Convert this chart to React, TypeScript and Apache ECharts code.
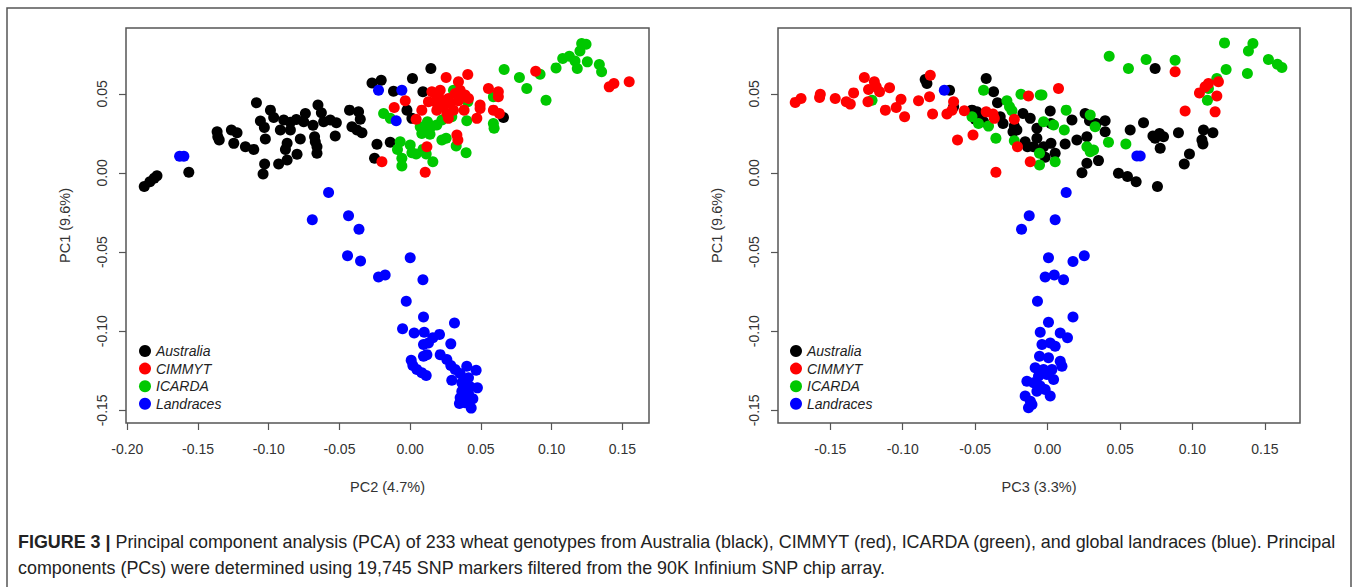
import React, { useEffect, useRef } from "react";
import * as echarts from "echarts";

type P = [number, number];

// ---- PC2 (x) vs PC1 (y) ----
const AUSTRALIA_PC2: P[] = [
  [-0.188, -0.0086], [-0.184, -0.0055], [-0.181, -0.0033], [-0.179, -0.0017],
  [-0.1565, 0.0004], [-0.1087, 0.0443],
  [-0.1365, 0.026], [-0.136, 0.0229], [-0.135, 0.0208],
  [-0.1264, 0.0271], [-0.1224, 0.0254], [-0.1247, 0.0187],
  [-0.1165, 0.0166], [-0.1106, 0.0149], [-0.1024, 0.0214],
  [-0.0988, 0.0397], [-0.1059, 0.0328], [-0.1031, 0.0288], [-0.0965, 0.0351],
  [-0.0894, 0.0334], [-0.0847, 0.0321], [-0.0805, 0.0338], [-0.0741, 0.0376],
  [-0.0753, 0.0323], [-0.0687, 0.0301], [-0.0652, 0.0429], [-0.0628, 0.038],
  [-0.0612, 0.0323], [-0.0565, 0.0334], [-0.0522, 0.0317],
  [-0.0918, 0.0271], [-0.0847, 0.0271], [-0.087, 0.0187], [-0.0882, 0.0149],
  [-0.0777, 0.0214], [-0.08, 0.0118], [-0.087, 0.0082], [-0.093, 0.0057],
  [-0.1029, 0.0057], [-0.104, -0.0006],
  [-0.0676, 0.0229], [-0.0671, 0.0197], [-0.0659, 0.0166], [-0.0659, 0.0124],
  [-0.053, 0.0233],
  [-0.027, 0.0569], [-0.0205, 0.0586], [0.0146, 0.066], [0.0016, 0.0597],
  [-0.0118, 0.0517], [0.009, 0.0513],
  [-0.0429, 0.0397], [-0.0365, 0.0386], [-0.0353, 0.0339], [-0.0412, 0.0292],
  [-0.0376, 0.0271], [-0.0341, 0.0254],
  [-0.0023, 0.0397], [0.0012, 0.0345], [-0.0235, 0.0181], [-0.0141, 0.0194],
  [-0.0252, 0.0093], [0.0659, 0.0351],
];

const CIMMYT_PC2: P[] = [
  [0.0254, 0.0603], [0.0407, 0.0622], [0.0341, 0.0576], [0.0153, 0.0513],
  [0.0212, 0.0523], [0.0188, 0.0481], [0.0129, 0.045], [0.0177, 0.045],
  [0.0224, 0.046], [0.027, 0.0471], [0.0318, 0.0502], [0.0353, 0.0523],
  [0.0388, 0.0492], [0.0341, 0.0456], [0.0282, 0.044], [0.0235, 0.0418],
  [0.0188, 0.0397], [0.0381, 0.0397], [0.0412, 0.0471], [0.0306, 0.0397],
  [0.0259, 0.0376], [0.0082, 0.0397], [0.0042, 0.0339], [-0.0035, 0.0456],
  [-0.0113, 0.0414], [0.027, 0.0345], [0.0471, 0.0345], [0.0494, 0.0429],
  [0.0494, 0.0408], [0.0553, 0.0534], [0.0623, 0.0513], [0.0623, 0.0481],
  [0.0588, 0.0397], [0.063, 0.0376], [0.033, 0.024], [0.0337, 0.0208],
  [0.0118, 0.0166], [0.0106, 0.0004], [-0.02, 0.0071], [0.0887, 0.0643],
  [0.1407, 0.0544], [0.144, 0.0566], [0.1548, 0.0576],
];

const ICARDA_PC2: P[] = [
  [0.0664, 0.0654], [0.0772, 0.0603], [0.0824, 0.0534], [0.0918, 0.0624],
  [0.096, 0.046], [0.1031, 0.0664], [0.1078, 0.0723], [0.1125, 0.0738],
  [0.1165, 0.0708], [0.1181, 0.066], [0.1212, 0.0818], [0.1243, 0.0813],
  [0.12, 0.0771], [0.1252, 0.0702], [0.1337, 0.0685], [0.1353, 0.0639],
  [-0.0188, 0.0376], [-0.0141, 0.0345], [0.0071, 0.0292], [0.0113, 0.0275],
  [0.0153, 0.0296], [0.0188, 0.0303], [0.0122, 0.0323], [0.0224, 0.0334],
  [0.0294, 0.0355], [0.04, 0.033], [0.0407, 0.045], [0.0306, 0.0523],
  [0.0588, 0.0313], [0.0593, 0.0282], [0.0588, 0.0481], [0.0224, 0.0208],
  [0.0254, 0.0219], [0.0325, 0.017], [0.0395, 0.0128], [0.0082, 0.025],
  [0.014, 0.0245],
  [-0.0071, 0.0197], [-0.009, 0.0149], [-0.0059, 0.0093], [-0.0059, 0.0044],
  [0, 0.0177], [0.0012, 0.0128], [0.0042, 0.012], [0.009, 0.0149],
  [0.0113, 0.012], [0.016, 0.0071],
];

const LANDRACES_PC2: P[] = [
  [-0.163, 0.0105], [-0.16, 0.0105], [-0.0224, 0.0523], [-0.0059, 0.0523],
  [-0.0099, 0.033],
  [-0.0577, -0.0124], [-0.0692, -0.0296], [-0.0436, -0.0271], [-0.0362, -0.0355],
  [-0.0443, -0.0523], [-0.0351, -0.0557], [0, -0.0536], [-0.0224, -0.0658],
  [-0.0177, -0.0645], [0.009, -0.0675], [-0.0028, -0.0811], [0.0094, -0.091],
  [0.0313, -0.0948], [-0.0054, -0.0985], [0.0028, -0.1011], [0.0099, -0.1007],
  [0.0207, -0.102], [0.016, -0.1042], [0.0094, -0.1084], [0.0129, -0.1074],
  [0.0287, -0.108], [0.0094, -0.1158], [0.0118, -0.1148], [0.0007, -0.1183],
  [0.0019, -0.1217], [0.0047, -0.1242], [0.0082, -0.1263], [0.0113, -0.128],
  [0.0212, -0.1148], [0.0259, -0.1179], [0.0287, -0.1217], [0.0318, -0.1242],
  [0.04, -0.1221], [0.0466, -0.1247], [0.0294, -0.131], [0.0353, -0.1267],
  [0.0365, -0.1326], [0.0412, -0.1294], [0.0424, -0.1351], [0.0475, -0.1358],
  [0.0365, -0.1379], [0.0412, -0.1393], [0.0443, -0.1427], [0.0353, -0.1421],
  [0.0348, -0.1456], [0.0431, -0.1486], [0.0388, -0.1452],
];

// ---- PC3 (x) vs PC1 (y) ----
const AUSTRALIA_PC3: P[] = [
  [-0.0845, 0.0591], [-0.0833, 0.0566], [-0.0677, 0.0523], [-0.0649, 0.0418],
  [-0.0424, 0.0597], [-0.0373, 0.0513], [-0.0346, 0.0443], [-0.0522, 0.0397],
  [-0.0488, 0.0386], [-0.0465, 0.0355], [-0.0442, 0.0323], [-0.05, 0.0339],
  [-0.0327, 0.0355], [-0.0308, 0.0313], [-0.023, 0.0296], [-0.0212, 0.0271],
  [-0.0239, 0.026], [-0.017, 0.0376], [-0.012, 0.0345], [-0.0155, 0.0197],
  [-0.0139, 0.0166], [-0.0074, 0.0282], [-0.0074, 0.0219],
  [0.0742, 0.066], [0.0018, 0.0391], [0.0023, 0.0313], [0.0168, 0.0334],
  [0.0259, 0.0376], [0.0289, 0.033], [0.0335, 0.0313], [0.0397, 0.033],
  [0.0397, 0.026], [0.0271, 0.0229], [0.0202, 0.0208], [0.0121, 0.0183],
  [0.0023, 0.0187], [0.0052, 0.0124], [-0.0017, 0.0099], [-0.0097, 0.0166],
  [-0.0028, 0.0166], [0.0351, 0.0078], [0.0271, 0.0061], [0.0237, 0.0002],
  [0.0489, -0.0002], [0.0551, -0.0023], [0.0611, -0.0055], [0.0758, -0.0086],
  [0.0662, 0.0317], [0.057, 0.0271], [0.0727, 0.0233], [0.0772, 0.025],
  [0.08, 0.0229], [0.0777, 0.0156], [0.0742, 0.0219], [0.0903, 0.0254],
  [0.0979, 0.012], [0.0943, 0.0057], [0.1076, 0.0271], [0.1141, 0.0254],
  [0.1065, 0.0208], [0.1072, 0.0183],
];

const CIMMYT_PC3: P[] = [
  [-0.1742, 0.0446], [-0.1702, 0.0471], [-0.1574, 0.0477], [-0.1569, 0.0498],
  [-0.1466, 0.0471], [-0.139, 0.045], [-0.1362, 0.0435], [-0.1339, 0.0506],
  [-0.1265, 0.0603], [-0.1236, 0.0528], [-0.1196, 0.0576], [-0.1183, 0.0544],
  [-0.116, 0.0513], [-0.124, 0.045], [-0.1091, 0.0538], [-0.1012, 0.0465],
  [-0.1045, 0.0414], [-0.112, 0.0397], [-0.0987, 0.0355], [-0.0891, 0.0456],
  [-0.081, 0.0618], [-0.0815, 0.0481], [-0.0794, 0.0372], [-0.0695, 0.0372],
  [-0.066, 0.0397], [-0.0649, 0.045], [-0.0575, 0.0393], [-0.0622, 0.0208],
  [-0.0515, 0.024], [-0.0424, 0.0386], [-0.0377, 0.0372], [-0.0368, 0.0345],
  [-0.0357, 0.0004], [-0.023, 0.0339], [-0.0208, 0.0166], [-0.012, 0.0071],
  [-0.0132, 0.0486],
  [0.0075, 0.0534], [0.088, 0.0639], [0.0949, 0.0391], [0.1048, 0.0506],
  [0.1087, 0.0544], [0.111, 0.0566], [0.1179, 0.0576], [0.1168, 0.0486],
  [0.1156, 0.0386],
];

const ICARDA_PC3: P[] = [
  [-0.1212, 0.046], [-0.0442, 0.0523], [-0.0184, 0.0498], [-0.0281, 0.0456],
  [-0.0263, 0.0418], [-0.0246, 0.0393], [-0.0522, 0.0355], [-0.0477, 0.0313],
  [-0.0408, 0.0296], [-0.0357, 0.0219], [-0.023, 0.0204], [-0.0056, 0.0124],
  [-0.0056, 0.005], [-0.0051, 0.0492],
  [0.0425, 0.0738], [0.0558, 0.066], [0.068, 0.0717], [0.088, 0.0712],
  [0.1221, 0.0822], [0.1417, 0.0818], [0.1386, 0.0771], [0.1232, 0.0654],
  [0.1379, 0.0629], [0.1524, 0.0717], [0.1586, 0.0687], [0.1617, 0.0666],
  [0.1168, 0.0597], [0.111, 0.0534], [0.1103, 0.046], [-0.0039, 0.0492],
  [0.0128, 0.0397], [-0.0028, 0.0323], [0.0041, 0.0303], [0.0115, 0.0271],
  [0.0294, 0.0366], [0.0328, 0.0292], [0.042, 0.0194], [0.054, 0.0183],
  [0.0271, 0.0166], [0.0294, 0.0134], [0.0317, 0.0145], [0.0052, 0.0071],
];

const LANDRACES_PC3: P[] = [
  [-0.0713, 0.0523], [0.0616, 0.0107], [0.0639, 0.0107], [0.0128, -0.0124],
  [-0.0127, -0.0271], [-0.018, -0.0355], [0.0052, -0.0296], [0.0006, -0.0536],
  [0.0175, -0.0559], [0.0253, -0.0523], [-0.0017, -0.0658], [0.0046, -0.0645],
  [0.011, -0.0675], [-0.007, -0.0811], [0.0175, -0.091], [0.0006, -0.0944],
  [-0.0051, -0.1007], [0.0087, -0.1011], [0.0137, -0.1042], [-0.0039, -0.1084],
  [0.0018, -0.1074], [0.0052, -0.1095], [-0.0056, -0.1158], [0.0006, -0.1168],
  [0.0087, -0.119], [0.0099, -0.1221], [-0.0086, -0.1231], [-0.0028, -0.1242],
  [0.003, -0.1242], [-0.0005, -0.1274], [-0.0063, -0.1284], [0.0041, -0.1305],
  [-0.0143, -0.1316], [-0.0097, -0.1326], [-0.0051, -0.1347], [-0.0017, -0.1368],
  [-0.0074, -0.1379], [-0.0155, -0.141], [-0.0119, -0.1442], [0.0018, -0.141],
  [-0.0132, -0.1484], [-0.0108, -0.1463],
];

const GROUPS = ["Australia", "CIMMYT", "ICARDA", "Landraces"];
const COLORS: Record<string, string> = {
  Australia: "#000000",
  CIMMYT: "#FF0000",
  ICARDA: "#00C800",
  Landraces: "#0000FF",
};
const DRAW_ORDER = ["Australia", "ICARDA", "CIMMYT", "Landraces"];

const X_TICKS_PC2 = [-0.2, -0.15, -0.1, -0.05, 0, 0.05, 0.1, 0.15];
const X_TICKS_PC3 = [-0.15, -0.1, -0.05, 0, 0.05, 0.1, 0.15];
const Y_TICKS = [-0.15, -0.1, -0.05, 0, 0.05];

const CAPTION_1 =
  " Principal component analysis (PCA) of 233 wheat genotypes from Australia (black), CIMMYT (red), ICARDA (green), and global landraces (blue). Principal";
const CAPTION_2 =
  "components (PCs) were determined using 19,745 SNP markers filtered from the 90K Infinium SNP chip array.";

const FONT = "'Liberation Sans', Arial, sans-serif";

export default function App() {
  const ref = useRef<HTMLDivElement>(null);

  useEffect(() => {
    if (!ref.current) return;
    const chart = echarts.init(ref.current, null, { renderer: "svg" });

    const dataL: Record<string, P[]> = {
      Australia: AUSTRALIA_PC2,
      CIMMYT: CIMMYT_PC2,
      ICARDA: ICARDA_PC2,
      Landraces: LANDRACES_PC2,
    };
    const dataR: Record<string, P[]> = {
      Australia: AUSTRALIA_PC3,
      CIMMYT: CIMMYT_PC3,
      ICARDA: ICARDA_PC3,
      Landraces: LANDRACES_PC3,
    };

    const axisCommon = {
      type: "value" as const,
      axisLine: { show: false, onZero: false },
      splitLine: { show: false },
      axisTick: { show: true, inside: false, length: 7, lineStyle: { color: "#555", width: 1.2 } },
    };
    const labelStyle = {
      color: "#333",
      fontSize: 14,
      fontFamily: FONT,
      formatter: (v: number) => v.toFixed(2),
    };

    const mkX = (idx: number, min: number, max: number, ticks: number[], name: string) => ({
      ...axisCommon,
      gridIndex: idx,
      position: "bottom",
      min,
      max,
      axisTick: { ...axisCommon.axisTick, customValues: ticks },
      axisLabel: { ...labelStyle, margin: 19, customValues: ticks },
      name,
      nameLocation: "middle",
      nameGap: 56,
      nameTextStyle: { color: "#333", fontSize: 14.5, fontFamily: FONT },
    });
    const mkY = (idx: number) => ({
      ...axisCommon,
      gridIndex: idx,
      position: "left",
      min: -0.158,
      max: 0.0916,
      axisTick: { ...axisCommon.axisTick, customValues: Y_TICKS },
      axisLabel: { ...labelStyle, rotate: 90, margin: 17, customValues: Y_TICKS },
      name: "PC1 (9.6%)",
      nameLocation: "middle",
      nameGap: 54,
      nameTextStyle: { color: "#333", fontSize: 14.5, fontFamily: FONT },
    });

    const series: any[] = [];
    [dataL, dataR].forEach((d, gi) => {
      DRAW_ORDER.forEach((g) => {
        series.push({
          type: "scatter",
          name: g,
          xAxisIndex: gi,
          yAxisIndex: gi,
          data: d[g],
          symbol: "circle",
          symbolSize: 11,
          itemStyle: { color: COLORS[g], opacity: 1 },
          emphasis: { disabled: true },
        });
      });
    });

    const legendCommon = {
      orient: "vertical",
      data: GROUPS,
      icon: "circle",
      itemWidth: 12,
      itemHeight: 12,
      itemGap: 3.6,
      selectedMode: false,
      textStyle: { fontSize: 14, fontStyle: "italic", color: "#222", fontFamily: FONT },
    };

    chart.setOption({
      animation: false,
      backgroundColor: "#ffffff",
      grid: [
        { left: 126, top: 28, width: 523, height: 395, show: true, borderColor: "#555", borderWidth: 1.5, backgroundColor: "transparent" },
        { left: 778, top: 28, width: 522, height: 395, show: true, borderColor: "#555", borderWidth: 1.5, backgroundColor: "transparent" },
      ],
      xAxis: [
        mkX(0, -0.2009, 0.1688, X_TICKS_PC2, "PC2 (4.7%)"),
        mkX(1, -0.1861, 0.1742, X_TICKS_PC3, "PC3 (3.3%)"),
      ],
      yAxis: [mkY(0), mkY(1)],
      legend: [
        { ...legendCommon, left: 134, top: 339 },
        { ...legendCommon, left: 785, top: 339 },
      ],
      series,
      graphic: [
        {
          type: "rect",
          shape: { x: 7, y: 8, width: 1344, height: 620 },
          style: { fill: "none", stroke: "#555", lineWidth: 1.5 },
          silent: true,
        },
        {
          type: "text",
          left: 18,
          top: 533,
          style: {
            text: "{b|FIGURE 3 |}{n|" + CAPTION_1 + "}",
            rich: {
              b: { fontWeight: "bold", fontSize: 17.9, fontFamily: FONT, fill: "#222" },
              n: { fontSize: 17.9, fontFamily: FONT, fill: "#222" },
            },
          },
        },
        {
          type: "text",
          left: 18,
          top: 559,
          style: { text: CAPTION_2, fontSize: 17.9, fontFamily: FONT, fill: "#222" },
        },
      ],
    });

    return () => chart.dispose();
  }, []);

  return (
    <div
      ref={ref}
      style={{ position: "absolute", left: 0, top: 0, width: 1357, height: 587 }}
    />
  );
}
